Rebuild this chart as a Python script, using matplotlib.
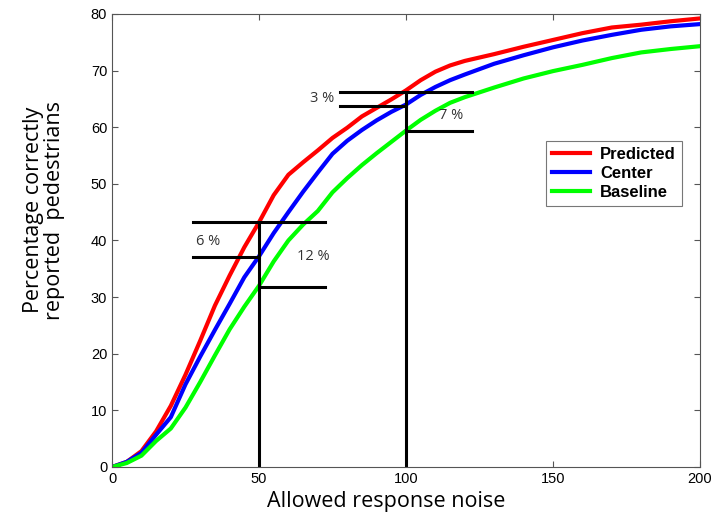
import matplotlib
matplotlib.use("Agg")
import matplotlib.pyplot as plt

# Data
x = [0, 5, 10, 15, 20, 25, 30, 35, 40, 45, 50, 55, 60, 65, 70, 75, 80, 85, 90, 95,
     100, 105, 110, 115, 120, 130, 140, 150, 160, 170, 180, 190, 200]
predicted = [0, 0.9, 2.8, 6.3, 10.8, 16.3, 22.3, 28.5, 33.8, 38.8, 43.2, 48.0, 51.6, 53.8,
             55.9, 58.1, 59.9, 61.9, 63.4, 64.9, 66.5, 68.3, 69.8, 70.9, 71.7,
             72.9, 74.2, 75.4, 76.6, 77.6, 78.1, 78.7, 79.2]
center = [0, 0.9, 2.5, 5.7, 8.8, 14.6, 19.5, 24.2, 28.8, 33.5, 37.2, 41.3, 45.0, 48.6,
          52.0, 55.3, 57.6, 59.5, 61.2, 62.7, 64.0, 65.7, 67.1, 68.3, 69.3,
          71.2, 72.7, 74.1, 75.3, 76.3, 77.2, 77.8, 78.2]
baseline = [0, 0.7, 2.0, 4.6, 6.8, 10.5, 15.0, 19.7, 24.3, 28.3, 32.0, 36.3, 40.0, 42.8,
            45.2, 48.5, 51.0, 53.3, 55.4, 57.4, 59.4, 61.3, 62.9, 64.3, 65.3,
            67.0, 68.6, 69.9, 71.0, 72.2, 73.2, 73.8, 74.3]

# gap markers at two noise levels
marks_x = [50, 100]
marks_pred = [43.2, 66.3]
marks_cent = [37.0, 63.8]
marks_base = [31.8, 59.4]
gap_labels = [("6 %", 32.7, 39.8), ("12 %", 68.5, 37.2), ("3 %", 71.4, 65.1), ("7 %", 115.5, 62)]

fig = plt.figure(figsize=(7.25, 5.19), dpi=100)
ax = fig.add_axes([0.1545, 0.1002, 0.811, 0.873])

ax.plot(x, predicted, color="#ff0000", lw=3, label="Predicted")
ax.plot(x, center, color="#0000ff", lw=3, label="Center")
ax.plot(x, baseline, color="#00ff00", lw=3, label="Baseline")

half = 22.5
for mx, p, c, b in zip(marks_x, marks_pred, marks_cent, marks_base):
    ax.plot([mx, mx], [0, p], color="black", lw=2.2)
    ax.plot([mx - half, mx + half], [p, p], color="black", lw=2.2)
    ax.plot([mx - half, mx], [c, c], color="black", lw=2.2)
    ax.plot([mx, mx + half], [b, b], color="black", lw=2.2)

for txt, tx, ty in gap_labels:
    ax.text(tx, ty, txt, fontsize=10.5, color="#333333", family="Open Sans",
            ha="center", va="center")

ax.set_xlim(0, 200)
ax.set_ylim(0, 80)
ax.set_xticks([0, 50, 100, 150, 200])
ax.set_yticks(range(0, 81, 10))
ax.tick_params(direction="in", top=True, right=True, length=4, labelsize=10.5,
               color="#555555")
for lab in ax.get_xticklabels() + ax.get_yticklabels():
    lab.set_family("Liberation Sans")
for sp in ax.spines.values():
    sp.set_color("#555555")

ax.set_xlabel("Allowed response noise", fontsize=15.5, family="Open Sans")
ax.xaxis.set_label_coords(0.466, -0.052)
ax.set_ylabel("Percentage correctly\nreported  pedestrians", fontsize=15.5,
              family="Open Sans", linespacing=1.0)
ax.yaxis.set_label_coords(-0.08, 0.567)

leg = ax.legend(loc="upper right", bbox_to_anchor=(0.969, 0.72), fancybox=False,
                prop={"weight": "bold", "size": 12, "family": "Liberation Sans"},
                handlelength=2.3, borderaxespad=0, labelspacing=0.25,
                borderpad=0.35, handletextpad=0.6)
leg.get_frame().set_edgecolor("#555555")
leg.get_frame().set_linewidth(0.8)

fig.savefig("out.png", dpi=100)
